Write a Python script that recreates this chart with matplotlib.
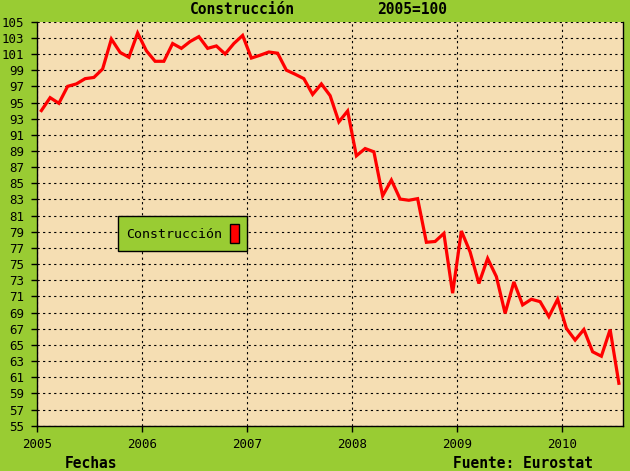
import matplotlib.pyplot as plt
from matplotlib.patches import Patch

# monthly index, Jan 2005 .. Jul 2010 (2005=100)
valores = [
    94.0, 95.6, 94.9, 97.0, 97.3, 97.95, 98.1, 99.15, 102.85, 101.2, 100.6, 103.6,
    101.4, 100.1, 100.1, 102.3, 101.7, 102.55, 103.15, 101.7, 102.0, 101.0, 102.3, 103.3,
    100.5, 100.85, 101.25, 101.1, 99.0, 98.5, 97.95, 96.0, 97.3, 95.85, 92.6, 93.95,
    88.4, 89.3, 88.9, 83.45, 85.4, 83.05, 82.9, 83.1, 77.7, 77.8, 78.8, 71.4,
    79.1, 76.5, 72.6, 75.7, 73.45, 68.9, 72.8, 69.95, 70.65, 70.35, 68.5, 70.65,
    67.05, 65.6, 66.9, 64.15, 63.6, 66.9, 60.25,
]
fechas = [2005 + (i + 0.5) / 12 for i in range(len(valores))]
anios = [2005, 2006, 2007, 2008, 2009, 2010]
y_ticks = list(range(55, 106, 2))

verde = "#99cc33"
trigo = "#f5deb3"
mono = "DejaVu Sans Mono"

fig = plt.figure(figsize=(6.3, 4.71), dpi=100, facecolor=verde)
ax = fig.add_axes([37 / 630, (471 - 425.7) / 471, 586 / 630, 404 / 471])
ax.set_facecolor(trigo)

ax.plot(fechas, valores, color="#ff0000", lw=2.3, solid_joinstyle="miter")

ax.set_xlim(2005, 2005 + 586 / 105)
ax.set_ylim(55, 105)
ax.set_xticks(anios)
ax.set_xticklabels([str(a) for a in anios], fontfamily=mono, fontsize=9)
ax.set_yticks(y_ticks)
ax.set_yticklabels([str(v) for v in y_ticks], fontfamily=mono, fontsize=9)
ax.tick_params(axis="both", direction="out", length=4, width=1, pad=5, colors="black")
ax.grid(True, color="black", linestyle=(0, (2, 3)), linewidth=0.8)
ax.set_axisbelow(True)

ax.spines["top"].set_visible(False)
for s in ["left", "bottom", "right"]:
    ax.spines[s].set_color("black")
    ax.spines[s].set_linewidth(1)

fig.text(242 / 630, 1 - 9 / 471, "Construcción", ha="center", va="center",
         fontfamily=mono, fontweight="bold", fontsize=10.5)
fig.text(412 / 630, 1 - 9 / 471, "2005=100", ha="center", va="center",
         fontfamily=mono, fontweight="bold", fontsize=10.5)
fig.text(91 / 630, 1 - 463 / 471, "Fechas", ha="center", va="center",
         fontfamily=mono, fontweight="bold", fontsize=10.5)
fig.text(523 / 630, 1 - 463 / 471, "Fuente: Eurostat", ha="center", va="center",
         fontfamily=mono, fontweight="bold", fontsize=10.5)

handle = Patch(facecolor="#ff0000", edgecolor="black", linewidth=1)
leg = ax.legend([handle], ["Construcción"], loc="upper left",
                bbox_to_anchor=(118 / 630, 1 - 216 / 471), bbox_transform=fig.transFigure,
                borderaxespad=0, markerfirst=False, handlelength=0.65, handleheight=1.9,
                handletextpad=0.65, borderpad=0.6, fancybox=False, framealpha=1,
                facecolor=verde, edgecolor="black", prop={"family": mono, "size": 9.5})
leg.get_frame().set_linewidth(1)

fig.savefig("out.png", dpi=100, facecolor=verde)
